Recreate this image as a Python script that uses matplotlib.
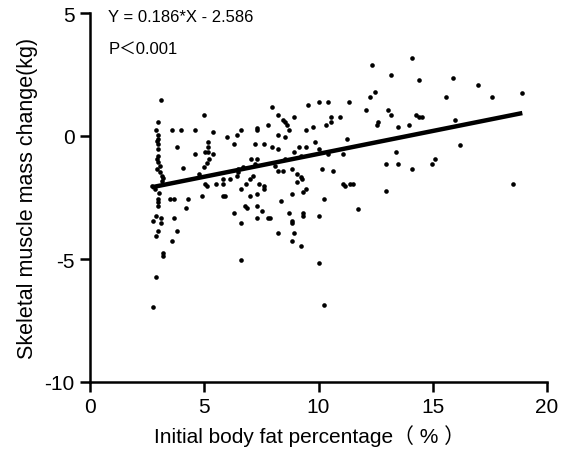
import numpy as np
import matplotlib
matplotlib.use("Agg")
import matplotlib.pyplot as plt

plt.rcParams['font.family'] = ['Liberation Sans', 'Noto Sans CJK SC', 'DejaVu Sans']
plt.rcParams['axes.unicode_minus'] = False

# Initial body fat percentage (%) and skeletal muscle mass change (kg)
body_fat = [
    # column near 3 %
    3.09, 2.99, 2.89, 2.99, 2.99, 2.99, 2.99, 2.99, 2.92, 2.99, 3.06, 2.92, 3.06, 3.14, 3.21,
    2.70, 3.14, 2.99, 2.99, 2.99, 2.89, 2.77, 3.09, 3.09, 2.99, 2.89, 3.18, 3.18, 2.89, 2.77,
    2.95, 2.85, 3.00,
    # 3.5 - 5.5
    3.60, 3.98, 4.60, 3.79, 4.08, 3.50, 3.69, 4.30, 4.19, 3.69, 3.79, 3.60,
    5.00, 5.40, 5.18, 5.18, 5.18, 5.03, 5.40, 4.60, 5.22, 5.11, 5.00, 4.78, 4.89, 5.03, 5.11, 5.51,
    # 5.8 - 7.9
    6.01, 6.42, 6.61, 6.32, 5.81, 5.81, 5.81, 5.91, 6.13, 6.42, 6.49, 6.49, 6.32, 6.71,
    7.32, 7.32, 7.80, 7.22, 7.61, 7.03, 7.32, 7.22, 7.12, 6.61, 6.83, 7.00, 7.41, 7.61, 7.61,
    7.32, 7.00, 6.78, 6.88, 7.32, 7.51, 6.61, 7.32, 7.80, 6.61, 7.88,
    # 7.9 - 11
    7.95, 8.24, 8.43, 8.53, 8.63, 8.93, 8.24, 8.53, 8.72, 7.95, 8.24, 9.15, 9.45, 8.93, 8.53,
    9.23, 8.10, 8.24, 8.43, 8.83, 9.05, 9.23, 9.05, 9.26, 8.83, 9.33, 9.45, 8.35, 8.72, 9.33,
    9.33, 8.83, 8.83, 8.24, 8.93, 8.83, 9.23,
    9.53, 10.04, 10.43, 11.35, 10.55, 10.55, 10.33, 10.94, 9.45, 9.75, 9.85, 11.26, 10.04, 11.06,
    10.43, 10.14, 10.65, 10.24, 11.06, 11.16, 11.38, 11.50, 10.04, 10.04, 10.24,
    # 11.5 - 19
    11.74, 12.07, 12.25, 12.47, 12.35, 13.17, 13.05, 13.16, 12.62, 12.55, 13.47, 13.38, 12.95,
    13.47, 12.95, 13.96, 14.08, 14.08, 14.39, 15.90, 16.99, 18.92, 15.59, 17.59, 14.27, 14.41,
    14.52, 15.99, 16.19, 15.10, 14.98, 18.53,
]
muscle_change = [
    1.48, 0.58, 0.26, 0.04, -0.12, -0.33, -0.53, -0.83, -0.95, -1.07, -1.23, -1.34, -1.48, -1.61, -1.72,
    -2.04, -1.82, -2.56, -2.70, -2.83, -3.24, -3.44, -3.35, -3.55, -3.85, -4.05, -4.76, -4.87, -5.74, -6.94,
    -0.20, -2.15, -2.30,
    0.26, 0.26, 0.26, -0.43, -1.31, -2.56, -2.56, -2.56, -2.94, -3.35, -3.85, -4.26,
    0.87, 0.16, -0.23, -0.43, -0.64, -0.64, -0.74, -0.74, -0.93, -1.10, -1.27, -1.54, -2.43, -1.95, -2.04, -1.95,
    -0.04, 0.04, 0.26, -0.34, -1.95, -1.75, -2.43, -2.43, -1.75, -1.61, -1.34, -1.48, -3.14, -1.27,
    0.34, 0.26, 0.46, -0.34, -0.34, -0.93, -0.93, -1.14, -1.64, -2.15, -1.95, -1.75, -1.95, -2.04, -2.15,
    -2.36, -2.45, -2.83, -2.94, -2.83, -3.06, -3.55, -3.35, -3.35, -5.04, -3.35,
    1.17, 0.87, 0.66, 0.56, 0.45, 0.76, 0.05, -0.04, 0.26, -0.43, -0.53, -0.43, -0.43, -0.64, -0.93,
    -0.83, -1.21, -1.43, -1.43, -1.34, -1.54, -1.68, -1.86, -1.75, -2.36, -2.26, -2.15, -2.65, -3.14, -3.14,
    -3.26, -3.44, -3.55, -3.94, -3.94, -4.26, -4.46,
    1.27, 1.37, 1.37, 1.37, 0.76, 0.56, 0.45, 0.76, 0.26, 0.35, -0.23, -0.12, -0.53, -0.73,
    -0.73, -1.34, -1.43, -2.56, -1.95, -2.04, -1.95, -1.95, -3.26, -5.16, -6.86,
    -2.97, 1.07, 1.57, 1.78, 2.89, 2.48, 1.07, 0.87, 0.56, 0.45, 0.35, -0.64, -1.14,
    -1.14, -2.25, 0.46, 3.17, -1.34, 2.26, 2.37, 2.07, 1.76, 1.57, 1.57, 0.87, 0.77,
    0.76, 0.66, -0.35, -0.93, -1.14, -1.94,
]

slope = 0.186
intercept = -2.586
equation_text = "Y = 0.186*X - 2.586"
p_text = "P\uff1c0.001"
x_label = "Initial body fat percentage\uff08 % \uff09"
y_label = "Skeletal muscle mass change(kg)"
x_ticks = [0, 5, 10, 15, 20]
y_ticks = [-10, -5, 0, 5]

fig = plt.figure(figsize=(5.67, 4.64), dpi=100)
ax = fig.add_axes([90 / 567, 81 / 464, 457 / 567, 369 / 464])

ax.scatter(body_fat, muscle_change, s=11, color='black', linewidths=0, zorder=3)

xs = np.array([min(body_fat), max(body_fat)])
ax.plot(xs, slope * xs + intercept, color='black', lw=3.2, solid_capstyle='butt', zorder=4)

ax.set_xlim(0, 20)
ax.set_ylim(-10, 5)
ax.set_xticks(x_ticks)
ax.set_yticks(y_ticks)
for side in ('top', 'right'):
    ax.spines[side].set_visible(False)
for side in ('left', 'bottom'):
    ax.spines[side].set_linewidth(1.8)
ax.tick_params(direction='out', length=7, width=1.8, labelsize=15, pad=4, color='black')

ax.set_xlabel(x_label, fontsize=15, labelpad=6)
ax.xaxis.set_label_coords(0.48, -0.115)
ax.set_ylabel(y_label, fontsize=15.5, labelpad=5)

ax.text(0.04, 0.99, equation_text, transform=ax.transAxes, fontsize=12, va='center', ha='left')
ax.text(0.04, 0.905, p_text, transform=ax.transAxes, fontsize=12, va='center', ha='left')

fig.savefig("out.png", dpi=100)
